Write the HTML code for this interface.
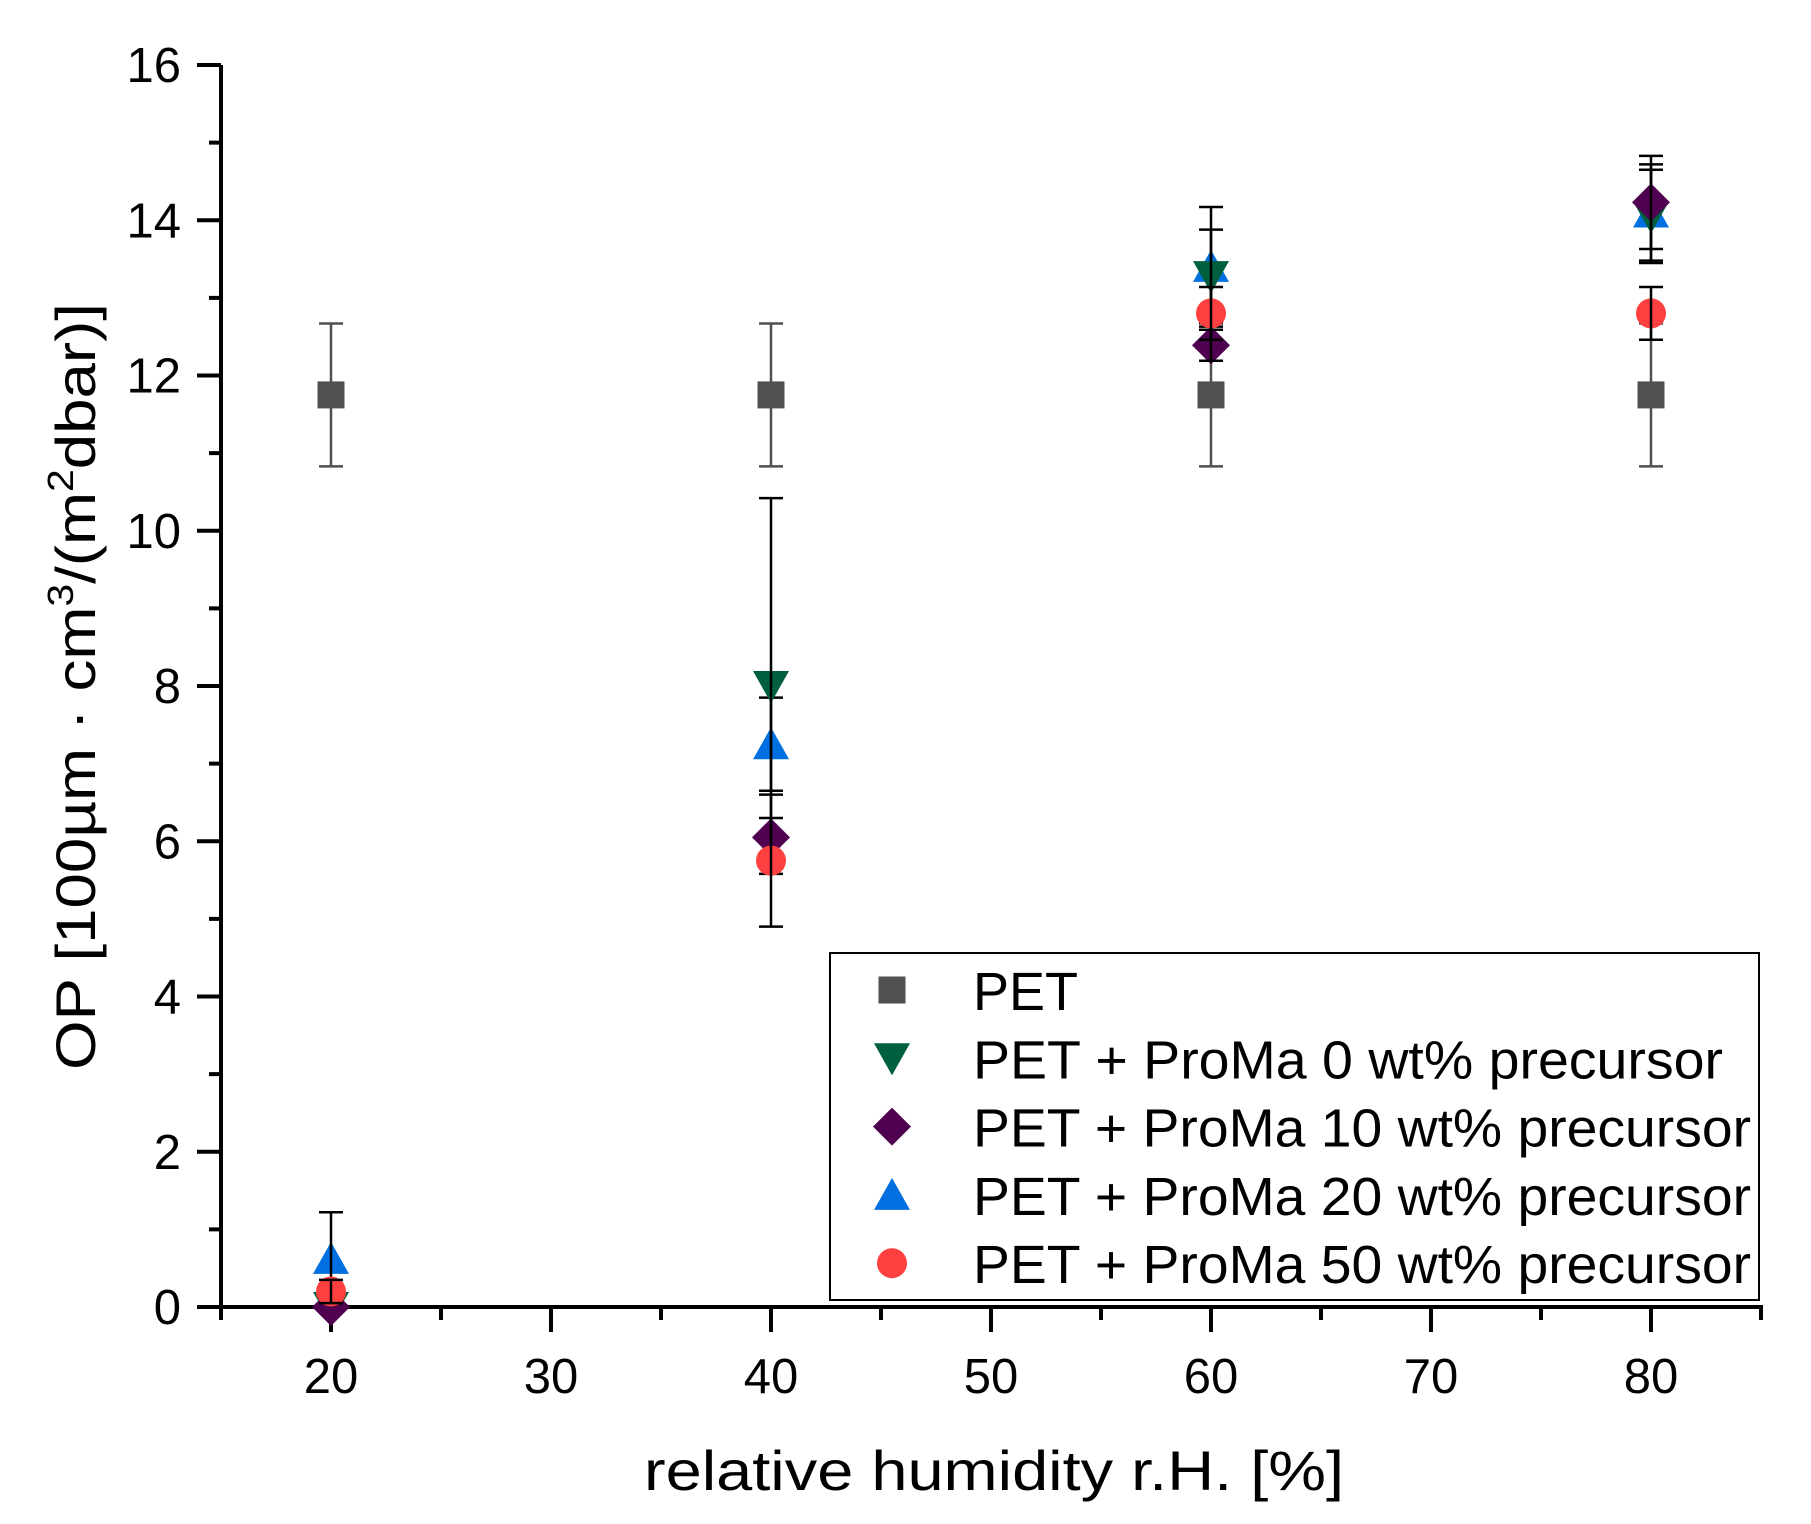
<!DOCTYPE html>
<html><head><meta charset="utf-8"><style>
html,body{margin:0;padding:0;background:#fff;}
svg{display:block;font-family:"Liberation Sans",Arial,sans-serif;}
</style></head><body>
<svg id="chart" width="1811" height="1524" viewBox="0 0 1811 1524" xmlns="http://www.w3.org/2000/svg">
<g id="axes"></g>
<g id="marks"></g>
<g id="legend"></g>
<text x="644" y="1490" font-size="56" textLength="700" lengthAdjust="spacingAndGlyphs">relative humidity r.H. [%]</text>
<text transform="translate(95,1070) rotate(-90)" font-size="56" textLength="767" lengthAdjust="spacingAndGlyphs">OP [100µm · cm<tspan font-size="36" dy="-22">3</tspan><tspan dy="22">/(m</tspan><tspan font-size="36" dy="-22">2</tspan><tspan dy="22">dbar)]</tspan></text>
</svg>
<script>
const xCats = [20, 40, 60, 80];
const seriesNames = ["PET","PET + ProMa 0 wt% precursor","PET + ProMa 10 wt% precursor","PET + ProMa 20 wt% precursor","PET + ProMa 50 wt% precursor"];
const petVals = [11.75, 11.75, 11.75, 11.75];
const petErr = [0.92, 0.92, 0.92, 0.92];
const p0Vals = [0.0, 8.0, 13.28, 14.05];
const p0Err = [0.0, 2.42, 0.6, 0.6];
const p10Vals = [0.0, 6.05, 12.39, 14.23];
const p10Err = [0.0, 0.25, 0.2, 0.6];
const p20Vals = [0.62, 7.25, 13.4, 14.1];
const p20Err = [0.6, 0.6, 0.77, 0.62];
const p50Vals = [0.2, 5.75, 12.8, 12.8];
const p50Err = [0.15, 0.85, 0.34, 0.34];
const yTicks = [0, 2, 4, 6, 8, 10, 12, 14, 16];
const xTicks = [20, 30, 40, 50, 60, 70, 80];

const NS = "http://www.w3.org/2000/svg";
const X0 = 221, X1 = 1761, Y0 = 1307, Y1 = 65;
function xs(v){ return X0 + (v - 15) / 70 * (X1 - X0); }
function ys(v){ return Y0 - v / 16 * (Y0 - Y1); }
function mk(tag, attrs, parent){
  const e = document.createElementNS(NS, tag);
  for (const k in attrs) e.setAttribute(k, attrs[k]);
  parent.appendChild(e);
  return e;
}
const axes = document.getElementById('axes');
const marks = document.getElementById('marks');
const legend = document.getElementById('legend');

let yl = mk('line', {x1:X0, y1:Y1, x2:X0, y2:Y0+2, stroke:'#000','stroke-width':4}, axes);


let xl = mk('line', {x1:X0-2, y1:Y0, x2:X1+2, y2:Y0, stroke:'#000','stroke-width':4}, axes);



for (let v = 0; v <= 16; v += 1) {
  const major = v % 2 === 0;
  const t = mk('line', {x1:X0 - (major ? 24 : 12), y1:ys(v), x2:X0, y2:ys(v), stroke:'#000','stroke-width':4}, axes);
  
  
}
yTicks.forEach(v => {
  const t = mk('text', {x:181, y:ys(v)+17, 'font-size':49, 'text-anchor':'end'}, axes);
  t.textContent = v;
  
  
});
for (let v = 15; v <= 85; v += 5) {
  const major = v % 10 === 0;
  const t = mk('line', {x1:xs(v), y1:Y0, x2:xs(v), y2:Y0 + (major ? 25 : 13), stroke:'#000','stroke-width':4}, axes);
  
  
}
xTicks.forEach(v => {
  const t = mk('text', {x:xs(v), y:1393, 'font-size':49, 'text-anchor':'middle'}, axes);
  t.textContent = v;
  
  
});

function marker(shape, color, cx, cy, parent){
  let e;
  if (shape === 'square') e = mk('rect', {x:cx-13.5, y:cy-13.5, width:27, height:27, fill:color}, parent);
  else if (shape === 'down') e = mk('polygon', {points:`${cx-18},${cy-15} ${cx+18},${cy-15} ${cx},${cy+17}`, fill:color}, parent);
  else if (shape === 'up') e = mk('polygon', {points:`${cx-18},${cy+15} ${cx+18},${cy+15} ${cx},${cy-17}`, fill:color}, parent);
  else if (shape === 'diamond') e = mk('polygon', {points:`${cx},${cy-19} ${cx+19},${cy} ${cx},${cy+19} ${cx-19},${cy}`, fill:color}, parent);
  else e = mk('circle', {cx:cx, cy:cy, r:15, fill:color}, parent);
  return e;
}

const series = [
  {key:'pet', vals:petVals, err:petErr, shape:'square', color:'#505050', ecolor:'#505050'},
  {key:'p20', vals:p20Vals, err:p20Err, shape:'up', color:'#0070e0', ecolor:'#000'},
  {key:'p0', vals:p0Vals, err:p0Err, shape:'down', color:'#005f3c', ecolor:'#000'},
  {key:'p10', vals:p10Vals, err:p10Err, shape:'diamond', color:'#500050', ecolor:'#000'},
  {key:'p50', vals:p50Vals, err:p50Err, shape:'circle', color:'#ff4040', ecolor:'#000'}
];
series.forEach(s => {
  const g = mk('g', {}, marks);
  
  
  xCats.forEach((xv, i) => {
    const cx = xs(xv), cy = ys(s.vals[i]);
    const m = marker(s.shape, s.color, cx, cy, g);
    
    
    if (s.err[i] > 0) {
      const yt = ys(s.vals[i] + s.err[i]), yb = ys(s.vals[i] - s.err[i]);
      const eb = mk('path', {d:`M${cx},${yt}V${yb}M${cx-12},${yt}H${cx+12}M${cx-12},${yb}H${cx+12}`, stroke:s.ecolor, 'stroke-width':2.5, fill:'none'}, g);
      
      
    }
  });
});

const box = mk('rect', {x:830, y:953, width:929, height:347, fill:'#fff', stroke:'#000', 'stroke-width':2}, legend);


const legShapes = [['square','#505050'],['down','#005f3c'],['diamond','#500050'],['up','#0070e0'],['circle','#ff4040']];
const legLens = [105, 750, 778, 778, 778];
seriesNames.forEach((n, i) => {
  const cy = 990 + i * 68.3;
  const g = mk('g', {}, legend);
  
  
  marker(legShapes[i][0], legShapes[i][1], 892, cy, g);
  const t = mk('text', {x:973, y:cy+20, 'font-size':54, textLength:legLens[i], lengthAdjust:'spacingAndGlyphs'}, g);
  t.textContent = n;
  
  
});
</script>
</body></html>
